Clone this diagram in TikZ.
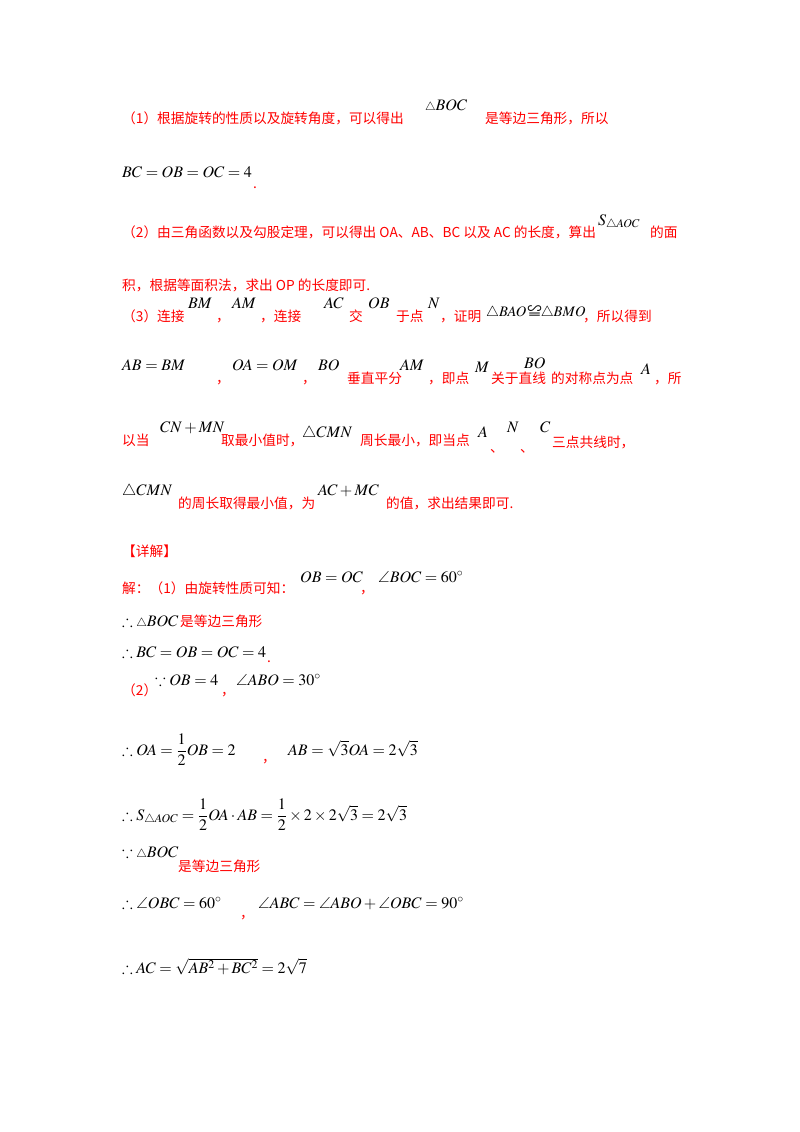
\documentclass[tikz,border=0pt]{standalone}
\usepackage{amsmath,amssymb}
\usepackage{mathptmx}
\usepackage{fontspec}
\newfontfamily\cjk{Noto Sans CJK SC}
\begin{document}
\begin{tikzpicture}[x=1pt,y=-1pt,
  r/.style={anchor=base west,inner sep=0,text=red,font=\cjk\fontsize{13.7}{15}\selectfont},
  m/.style={anchor=base west,inner sep=0,font=\fontsize{16}{17}\selectfont}]
\useasboundingbox[fill=white] (0,0) rectangle (800,1132);
\node[r] (a1) at (122,123) {（1）根据旋转的性质以及旋转角度，可以得出};
\node[m] (a2) at (425,110) {$\scriptstyle\triangle\textstyle BOC$};
\node[r] (a3) at (485,123) {是等边三角形，所以};
\node[m] (b1) at (122,177) {$BC=OB=OC=4$};
\node[r] (b2) at (253,188) {.};
\node[r] (c1) at (122,237) {（2）由三角函数以及勾股定理，可以得出 OA、AB、BC 以及 AC 的长度，算出};
\node[m] (c2) at (598,225) {$S_{\triangle AOC}$};
\node[r] (c3) at (650,237) {的面};
\node[r] (d1) at (122,290) {积，根据等面积法，求出 OP 的长度即可.};
\node[r] (e1) at (122,321) {（3）连接};
\node[m] (e2) at (188,308) {$BM$};
\node[r] (e3) at (216,321) {，};
\node[m] (e4) at (232,308) {$AM$};
\node[r] (e5) at (260,321) {，连接};
\node[m] (e6) at (324,308) {$AC$};
\node[r] (e7) at (349,321) {交};
\node[m] (e8) at (368,308) {$OB$};
\node[r] (e9) at (396,321) {于点};
\node[m] (e10) at (428,308) {$N$};
\node[r] (e11) at (440,321) {，证明};
\node[m,font=\fontsize{14.5}{16}\selectfont] (e12) at (486,316) {$\triangle BAO$\kern1pt{\cjk ≌}\kern-1pt$\triangle BMO$};
\node[r] (e13) at (583,321) {，所以得到};
\node[m] (f1) at (122,370) {$AB=BM$};
\node[r] (f2) at (216,383) {，};
\node[m] (f3) at (232,370) {$OA=OM$};
\node[r] (f4) at (302,383) {，};
\node[m] (f5) at (318,370) {$BO$};
\node[r] (f6) at (347,383) {垂直平分};
\node[m] (f7) at (400,370) {$AM$};
\node[r] (f8) at (428,383) {，即点};
\node[m] (f9) at (475,372) {$M$};
\node[r] (f10) at (491,383) {关于直线};
\node[m] (f11) at (524,368) {$BO$};
\node[r] (f12) at (551,383) {的对称点为点};
\node[m] (f13) at (641,374) {$A$};
\node[r] (f14) at (654,383) {，所};
\node[r] (g1) at (122,445) {以当};
\node[m] (g2) at (160,432) {$CN+MN$};
\node[r] (g3) at (221,445) {取最小值时，};
\node[m] (g4) at (302,437) {$\triangle CMN$};
\node[r] (g5) at (360,445) {周长最小，即当点};
\node[m] (g6) at (478,437) {$A$};
\node[r] (g7) at (490,452) {、};
\node[m] (g8) at (507,432) {$N$};
\node[r] (g9) at (520,452) {、};
\node[m] (g10) at (540,432) {$C$};
\node[r] (g11) at (552,447) {三点共线时，};
\node[m] (h1) at (122,495) {$\triangle CMN$};
\node[r] (h2) at (178,508) {的周长取得最小值，为};
\node[m] (h3) at (318,495) {$AC+MC$};
\node[r] (h4) at (386,508) {的值，求出结果即可.};
\node[r] (i1) at (122,556) {【详解】};
\node[r] (j1) at (122,593) {解：（1）由旋转性质可知：};
\node[m] (j2) at (300,582) {$OB=OC$};
\node[r] (j3) at (360,593) {，};
\node[m] (j4) at (378,582) {$\angle BOC=60^\circ$};
\node[m] (k1) at (122,626) {$\therefore{\scriptstyle\triangle}BOC$};
\node[r] (k2) at (180,626) {是等边三角形};
\node[m] (l1) at (122,657) {$\therefore BC=OB=OC=4$};
\node[r] (l2) at (267,662) {.};
\node[r] (m1) at (122,695) {（2）};
\node[m] (m2) at (155,685) {$\because OB=4$};
\node[r] (m3) at (221,695) {，};
\node[m] (m4) at (236,685) {$\angle ABO=30^\circ$};
\node[m] (n1) at (122,755) {$\therefore OA=\dfrac12 OB=2$};
\node[r] (n2) at (262,762) {，};
\node[m] (n3) at (288,755) {$AB=\sqrt3 OA=2\sqrt3$};
\node[m] (o1) at (122,820) {$\therefore S_{\triangle AOC}=\dfrac12 OA\cdot AB=\dfrac12\times2\times2\sqrt3=2\sqrt3$};
\node[m] (p1) at (122,857) {$\because{\scriptstyle\triangle}BOC$};
\node[r] (p2) at (178,871) {是等边三角形};
\node[m] (q1) at (122,908) {$\therefore\angle OBC=60^\circ$};
\node[r] (q2) at (240,918) {，};
\node[m] (q3) at (258,908) {$\angle ABC=\angle ABO+\angle OBC=90^\circ$};
\node[m] (s1) at (122,973) {$\therefore AC=\sqrt{AB^2+BC^2}=2\sqrt7$};
\end{tikzpicture}
\end{document}
